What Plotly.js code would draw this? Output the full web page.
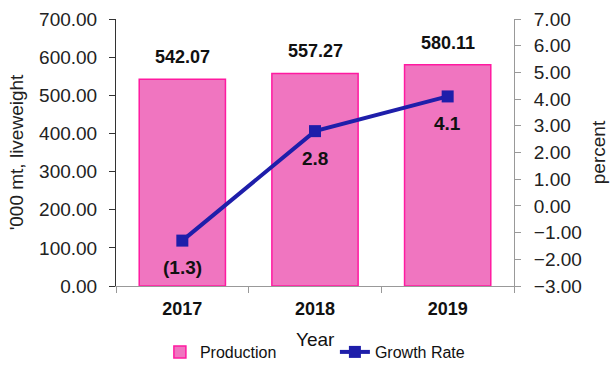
<!DOCTYPE html>
<html><head><meta charset="utf-8">
<script src="https://cdn.plot.ly/plotly-3.0.1.min.js"></script>
<style>html,body{margin:0;padding:0;background:#fff}#c{width:612px;height:369px}</style>
</head><body><div id="c"></div>
<script>
const years = ["2017", "2018", "2019"];
const production = [542.07, 557.27, 580.11];
const growth = [-1.3, 2.8, 4.1];
const prodLabels = ["542.07", "557.27", "580.11"];
const growthLabels = ["(1.3)", "2.8", "4.1"];
const xTitle = "Year";

const font = "'Liberation Sans', Arial, sans-serif";
const traces = [
  {type: "bar", x: years, y: production, name: "Production", width: 0.65,
   marker: {color: "#F075C0", line: {color: "#FF1AA0", width: 1.5}}, hoverinfo: "none"},
  {type: "scatter", mode: "lines+markers", x: years, y: growth, yaxis: "y2", name: "Growth Rate",
   line: {color: "#1E1EAA", width: 4}, marker: {symbol: "square", size: 12, color: "#1E1EAA"}, hoverinfo: "none"}
];
const ann = [];
years.forEach((yr, i) => {
  ann.push({x: i, y: production[i], xref: "x", yref: "y", text: "<b>" + prodLabels[i] + "</b>", showarrow: false,
    yanchor: "middle", yshift: 22, font: {family: font, size: 18, color: "#111"}});
  ann.push({x: i, y: growth[i], xref: "x", yref: "y2", text: "<b>" + growthLabels[i] + "</b>", showarrow: false,
    yanchor: "middle", yshift: -27, font: {family: font, size: 19, color: "#111"}});
});
// x-axis title placed below the tick labels
ann.push({x: 0.5, y: -0.202, xref: "paper", yref: "paper", text: xTitle, showarrow: false,
  xanchor: "center", yanchor: "middle", font: {family: font, size: 19, color: "#111"}});

const layout = {
  width: 612, height: 369,
  margin: {l: 116, r: 98, t: 19, b: 83},
  paper_bgcolor: "#fff", plot_bgcolor: "#fff",
  font: {family: font, color: "#111"},
  showlegend: true,
  legend: {orientation: "h", x: 0.55, xanchor: "center", yref: "container", y: 0, yanchor: "bottom",
    font: {family: font, size: 16, color: "#111"}, traceorder: "normal", entrywidth: 130},
  xaxis: {type: "category", range: [-0.5, 2.5], tickson: "boundaries", ticks: "outside", ticklen: 6, tickcolor: "#999",
    showline: true, linecolor: "#999", linewidth: 1, automargin: false, ticklabelstandoff: 6,
    tickfont: {family: font, size: 18, color: "#111", weight: "bold"}},
  yaxis: {range: [0, 700], dtick: 100, tickformat: ".2f", showgrid: false, zeroline: false, automargin: false,
    showline: true, linecolor: "#333", linewidth: 1, ticks: "outside", ticklen: 6, tickcolor: "#333",
    ticklabelstandoff: 8,
    tickfont: {family: font, size: 19, color: "#222"},
    title: {text: "'000 mt, liveweight", font: {family: font, size: 19, color: "#222"}, standoff: 10}},
  yaxis2: {overlaying: "y", side: "right", range: [-3, 7], dtick: 1, tickformat: ".2f", automargin: false,
    showgrid: false, zeroline: false, showline: true, linecolor: "#999", linewidth: 1,
    ticks: "outside", ticklen: 6, tickcolor: "#999", ticklabelstandoff: 9,
    tickfont: {family: font, size: 19, color: "#222"},
    title: {text: "percent", font: {family: font, size: 19, color: "#222"}, standoff: 10}},
  annotations: ann
};
Plotly.newPlot("c", traces, layout, {displayModeBar: false, staticPlot: true});
</script></body></html>
